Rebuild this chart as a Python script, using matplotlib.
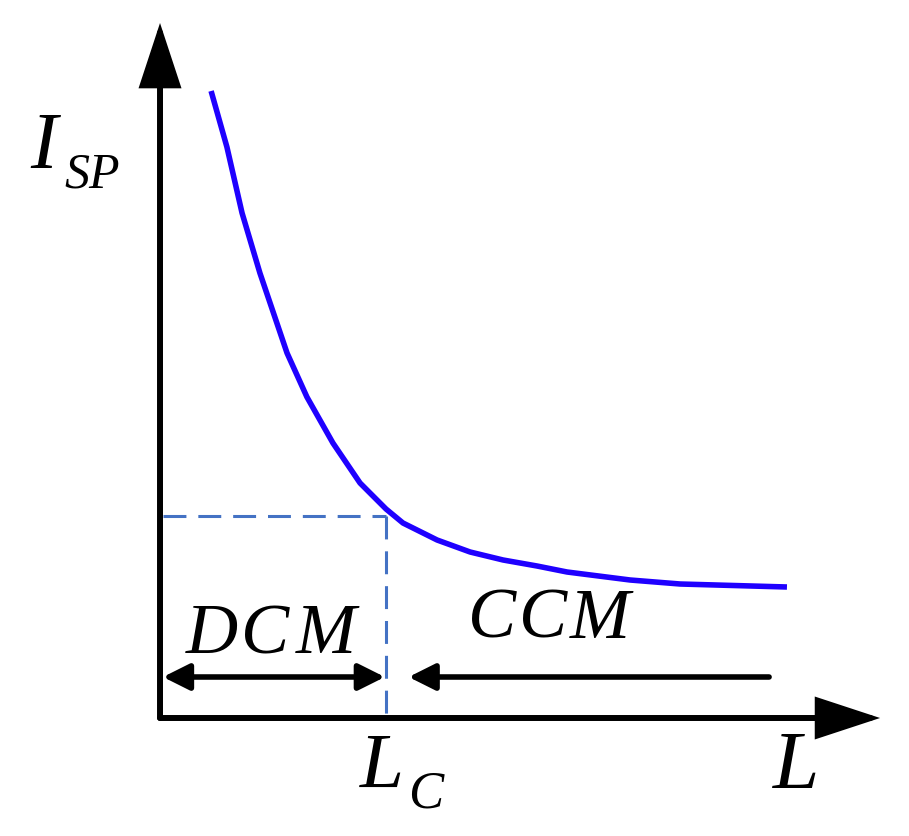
import matplotlib.pyplot as plt
from matplotlib.patches import FancyArrowPatch

# curve (L in units of Lc, I in arbitrary units)
L_values = [0.226, 0.296, 0.363, 0.442, 0.562, 0.650, 0.765, 0.885, 0.938,
            1.000, 1.075, 1.226, 1.372, 1.518, 1.668, 1.801, 2.080, 2.301, 2.774]
I_values = [6.27, 5.71, 5.05, 4.45, 3.65, 3.21, 2.75, 2.35, 2.23,
            2.09, 1.95, 1.78, 1.66, 1.58, 1.52, 1.46, 1.38, 1.34, 1.31]

Lc = 1.0
Ic = 2.02
L_axis_end = 3.186
I_axis_end = 6.95
mode_level = 0.41
ccm_start = 2.695

fig = plt.figure(figsize=(9.09, 8.36), dpi=100)
ax = fig.add_axes([0, 0, 1, 1])
ax.set_xlim(-0.708, 3.314)
ax.set_ylim(-1.18, 7.18)
ax.axis('off')

# axes with big filled arrow heads
big = dict(arrowstyle='-|>,head_length=3.8,head_width=1.25', mutation_scale=10,
           color='black', lw=4.3, shrinkA=0, shrinkB=0, joinstyle='miter')
ax.add_patch(FancyArrowPatch((0, 0), (L_axis_end, 0), **big))
ax.add_patch(FancyArrowPatch((0, 0), (0, I_axis_end), **big))

# dashed guide lines
ax.plot([0.013, Lc], [Ic, Ic], color='#4472C4', lw=2.2, dashes=(7.5, 3.9))
ax.plot([Lc, Lc], [Ic, 0], color='#4472C4', lw=2.2, dashes=(7.5, 3.9))

# the curve
ax.plot(L_values, I_values, color='#1f00ff', lw=4, solid_capstyle='butt',
        solid_joinstyle='round')

# mode arrows
small = dict(mutation_scale=10, color='black', lw=4, shrinkA=0, shrinkB=0)
ax.add_patch(FancyArrowPatch((0.013, mode_level), (Lc - 0.005, mode_level),
                             arrowstyle='<|-|>,head_length=1.6,head_width=0.8', **small))
ax.add_patch(FancyArrowPatch((ccm_start, mode_level), (1.10, mode_level),
                             arrowstyle='-|>,head_length=1.6,head_width=0.8', **small))

font = dict(family='Liberation Serif', style='italic', color='black', va='baseline')


def spaced(word, lefts, y, size):
    for ch, x in zip(word, lefts):
        ax.text(x, y, ch, fontsize=size, ha='left', **font)


spaced('DCM', [0.115, 0.360, 0.600], 0.65, 52)
spaced('CCM', [1.362, 1.590, 1.815], 0.80, 52)
ax.text(-0.575, 5.5, 'I', fontsize=58, ha='left', **font)
ax.text(-0.425, 5.3, 'SP', fontsize=36, ha='left', **font)
ax.text(0.885, -0.69, 'L', fontsize=57, ha='left', **font)
ax.text(1.097, -0.90, 'C', fontsize=38, ha='left', **font)
ax.text(2.712, -0.70, 'L', fontsize=60, ha='left', **font)

fig.savefig('out.png', dpi=100, facecolor='white')
